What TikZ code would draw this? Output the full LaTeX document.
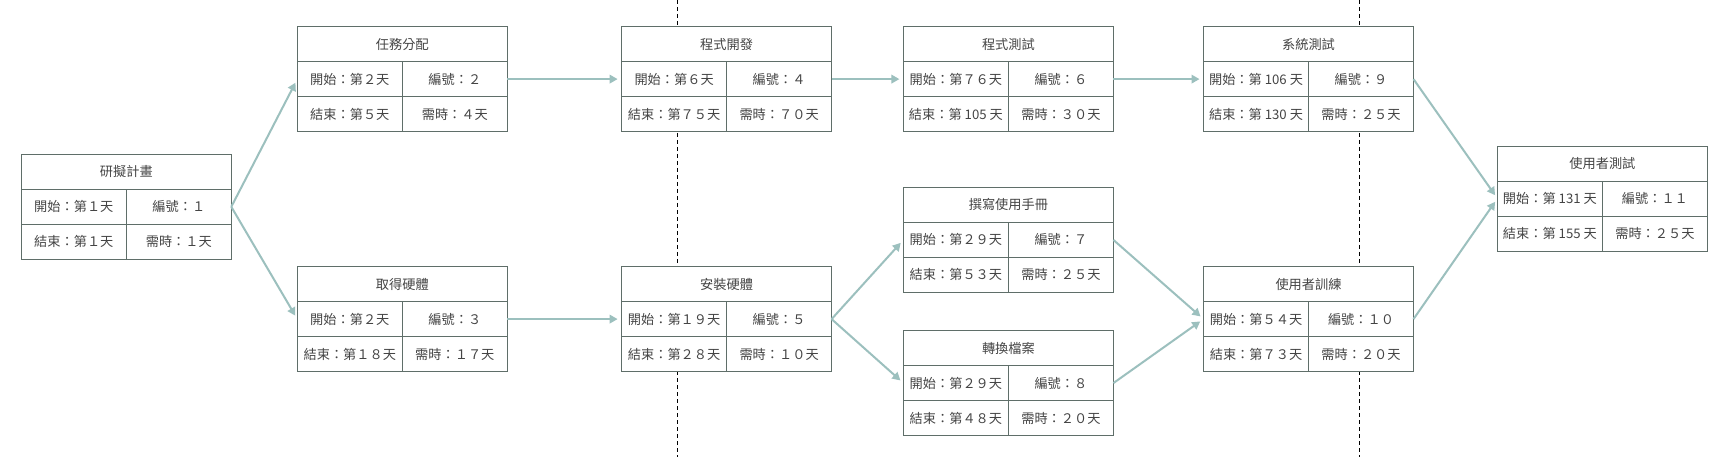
\documentclass[tikz,border=0pt]{standalone}
\usepackage{fontspec}
\setmainfont{Noto Sans CJK TC}
\usetikzlibrary{arrows.meta}
\definecolor{boxline}{RGB}{95,110,105}
\definecolor{arrowc}{RGB}{156,192,190}
\definecolor{txt}{RGB}{68,68,68}
\tikzset{
  cellbox/.style={draw=boxline, line width=0.9pt, fill=white, minimum width=105pt, minimum height=35pt, inner sep=0pt, outer sep=0pt, text=txt, font=\fontsize{13.2}{15}\selectfont},
  titlebox/.style={cellbox, minimum width=210pt},
  link/.style={draw=arrowc, line width=2pt, -{Triangle[length=8pt,width=8.5pt]}, shorten >=4pt},
  sep/.style={draw=black, line width=0.8pt, dash pattern=on 4pt off 3pt}
}
\newcommand\task[8]{%
  \node[titlebox, anchor=north west] (#1-t) at (#2,#3) {#4};
  \node[cellbox, anchor=north west] (#1-s) at (#1-t.south west) {#5};
  \node[cellbox, anchor=north west] (#1-i) at (#1-s.north east) {#6};
  \node[cellbox, anchor=north west] (#1-e) at (#1-s.south west) {#7};
  \node[cellbox, anchor=north west] (#1-d) at (#1-e.north east) {#8};
}
\begin{document}
\begin{tikzpicture}[x=1pt,y=-1pt]
\useasboundingbox[fill=white] (0,0) rectangle (1730,457);
% dashed separators
\coordinate (s1a) at (677.5,0);
\coordinate (s1b) at (677.5,457);
\coordinate (s2a) at (1359.3,0);
\coordinate (s2b) at (1359.3,457);
\draw[sep] (s1a) -- (s1b);
\draw[sep] (s2a) -- (s2b);
% tasks
\task{n1}{21.3}{154.3}{研擬計畫}{開始：第１天}{編號：１}{結束：第１天}{需時：１天}
\task{n2}{297.3}{26.6}{任務分配}{開始：第２天}{編號：２}{結束：第５天}{需時：４天}
\task{n3}{297.3}{266.6}{取得硬體}{開始：第２天}{編號：３}{結束：第１８天}{需時：１７天}
\task{n4}{621.6}{26.6}{程式開發}{開始：第６天}{編號：４}{結束：第７５天}{需時：７０天}
\task{n5}{621.6}{266.6}{安裝硬體}{開始：第１９天}{編號：５}{結束：第２８天}{需時：１０天}
\task{n6}{903.4}{26.6}{程式測試}{開始：第７６天}{編號：６}{結束：第 105 天}{需時：３０天}
\task{n7}{903.4}{187.4}{撰寫使用手冊}{開始：第２９天}{編號：７}{結束：第５３天}{需時：２５天}
\task{n8}{903.4}{330.6}{轉換檔案}{開始：第２９天}{編號：８}{結束：第４８天}{需時：２０天}
\task{n9}{1203.5}{26.6}{系統測試}{開始：第 106 天}{編號：９}{結束：第 130 天}{需時：２５天}
\task{n10}{1203.5}{266.6}{使用者訓練}{開始：第５４天}{編號：１０}{結束：第７３天}{需時：２０天}
\task{n11}{1497.4}{146}{使用者測試}{開始：第 131 天}{編號：１１}{結束：第 155 天}{需時：２５天}
% connectors
\draw[link] (n1-i.east) -- (n2-s.west);
\draw[link] (n1-i.east) -- (n3-s.west);
\draw[link] (n2-i.east) -- (n4-s.west);
\draw[link] (n3-i.east) -- (n5-s.west);
\draw[link] (n4-i.east) -- (n6-s.west);
\draw[link] (n5-i.east) -- (n7-s.west);
\draw[link] (n5-i.east) -- (n8-s.west);
\draw[link] (n6-i.east) -- (n9-s.west);
\draw[link] (n7-i.east) -- (n10-s.west);
\draw[link] (n8-i.east) -- (n10-s.west);
\draw[link] (n9-i.east) -- (n11-s.west);
\draw[link] (n10-i.east) -- (n11-s.west);
\end{tikzpicture}
\end{document}
